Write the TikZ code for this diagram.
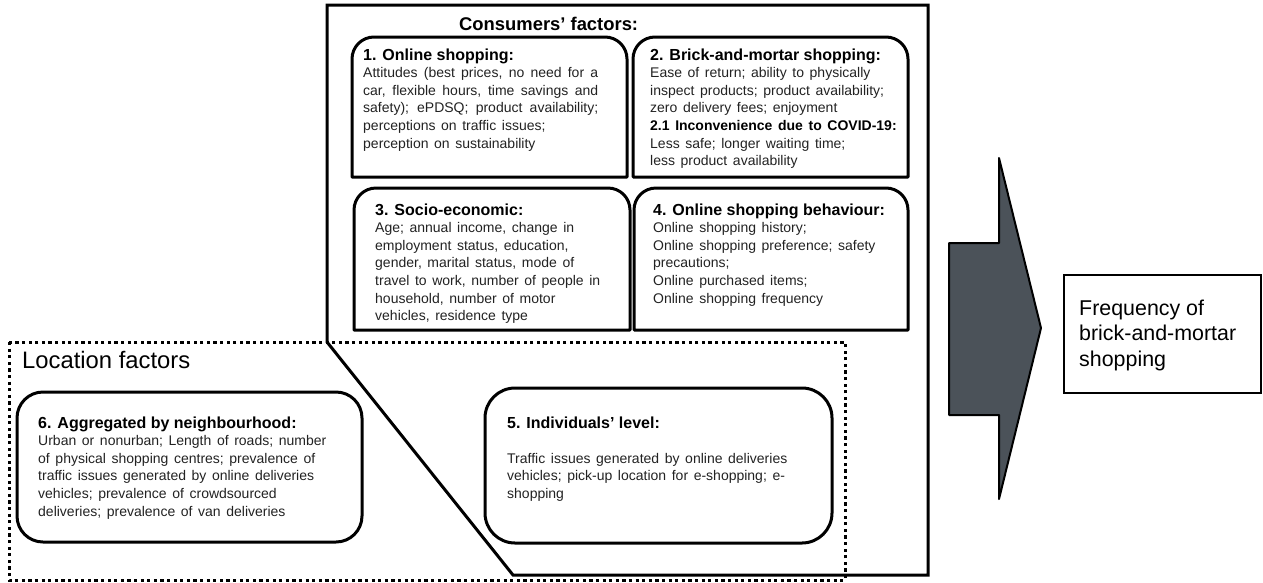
\documentclass[tikz,border=0pt]{standalone}
\usepackage{fontspec}
\setmainfont{Liberation Sans}
\definecolor{arrowgrey}{RGB}{75,82,89}
\definecolor{textgrey}{RGB}{34,34,34}
\newcommand\bodyfont{\leavevmode\fontsize{14}{17.6}\selectfont\spaceskip=5.6pt plus 3pt minus 1pt\relax}
\newcommand\ttl{\color{black}\bfseries\fontsize{16}{17.6}\selectfont\spaceskip=0pt\relax}
\newcommand\subttl{\color{black}\bfseries\fontsize{14}{17.6}\selectfont}
\newcommand\jl[1]{\makebox[235pt][s]{#1}}
\newcommand\topbox[4]{%
  \draw[boxline] (#1,#4) -- (#1,#2+22) .. controls (#1,#2+9.85) and (#1+9.85,#2) .. (#1+22,#2)
    -- (#3-22,#2) .. controls (#3-9.85,#2) and (#3,#2+9.85) .. (#3,#2+22) -- (#3,#4) -- cycle;}
\tikzset{
  boxline/.style={line width=3pt, line join=round},
  roundbox/.style={draw, line width=3pt, rounded corners=26pt, inner sep=0pt},
  txt/.style={anchor=base west, inner sep=0pt, align=left, text=textgrey},
  dottedline/.style={line width=3pt, dash pattern=on 3.2pt off 3.4pt},
}
\begin{document}
\begin{tikzpicture}[x=1pt,y=-1pt]
\useasboundingbox (0,0) rectangle (1263,582);
% consumers' outline
\draw[boxline, line join=miter] (327,5) -- (928,5) -- (928,575) -- (513,575) -- (327,342) -- cycle;
% location factors dotted frame
\draw[dottedline] (9,342) rectangle (845,580);
% top rounded boxes
\topbox{352}{37}{627}{177}
\topbox{633}{37}{908}{177}
\topbox{354}{188}{630}{330}
\topbox{634}{188}{908}{330}
% rounded boxes
\node[roundbox, minimum width=345pt, minimum height=150pt] (b6) at (189.5,467) {};
\node[roundbox, minimum width=347pt, minimum height=155pt, rounded corners=30pt] (b5) at (658.5,465.5) {};
% headings
\node[txt, text=black] (cf) at (459,30) {\bfseries\fontsize{18.4}{20}\selectfont Consumers’ factors:};
\node[txt, text=black] (lf) at (22,368) {\fontsize{23.8}{26}\selectfont Location factors};
% box texts
\node[txt] (t1) at (363,60) {\parbox[t]{260pt}{\bodyfont{\ttl 1. Online shopping:}\\
\jl{Attitudes (best prices, no need for a}\\
\jl{car, flexible hours, time savings and}\\
\jl{safety); ePDSQ; product availability;}\\
perceptions on traffic issues;\\
perception on sustainability}};
\node[txt] (t2) at (650,60) {\parbox[t]{260pt}{\bodyfont{\ttl 2. Brick-and-mortar shopping:}\\
Ease of return; ability to physically\\
inspect products; product availability;\\
zero delivery fees; enjoyment\\
{\subttl 2.1 Inconvenience due to COVID-19:}\\
Less safe; longer waiting time;\\
less product availability}};
\node[txt] (t3) at (375,215) {\parbox[t]{260pt}{\bodyfont{\ttl 3. Socio-economic:}\\
Age; annual income, change in\\
employment status, education,\\
gender, marital status, mode of\\
travel to work, number of people in\\
household, number of motor\\
vehicles, residence type}};
\node[txt] (t4) at (653,215) {\parbox[t]{260pt}{\bodyfont{\ttl 4. Online shopping behaviour:}\\
Online shopping history;\\
Online shopping preference; safety\\
precautions;\\
Online purchased items;\\
Online shopping frequency}};
\node[txt] (t6) at (38,428) {\parbox[t]{320pt}{\bodyfont{\ttl 6. Aggregated by neighbourhood:}\\
Urban or nonurban; Length of roads; number\\
of physical shopping centres; prevalence of\\
traffic issues generated by online deliveries\\
vehicles; prevalence of crowdsourced\\
deliveries; prevalence of van deliveries}};
\node[txt] (t5) at (507,428) {\parbox[t]{320pt}{\bodyfont{\ttl 5. Individuals’ level:}\\[17.6pt]
Traffic issues generated by online deliveries\\
vehicles; pick-up location for e-shopping; e-\\
shopping}};
% block arrow
\draw[line width=2pt, line join=round, fill=arrowgrey] (949,243) -- (999,243) -- (999,158) -- (1041,328) -- (999,499) -- (999,415) -- (949,415) -- cycle;
% output
\node[draw, line width=2.4pt, minimum width=197pt, minimum height=118pt, inner sep=0pt] (out) at (1162.5,334) {};
\node[txt, text=black] (outt) at (1079,315) {\parbox[t]{180pt}{\fontsize{21.4}{25.5}\selectfont Frequency of\\brick-and-mortar\\shopping}};
\end{tikzpicture}
\end{document}
